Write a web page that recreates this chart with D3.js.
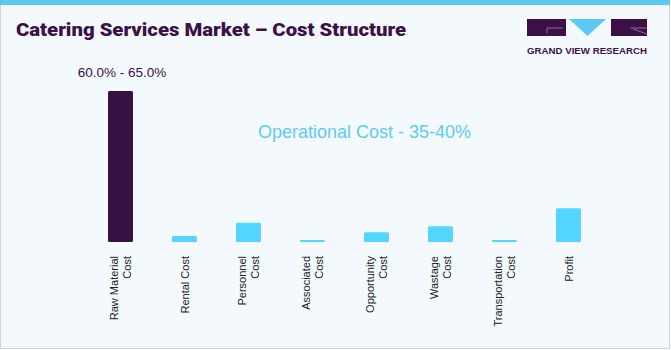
<!DOCTYPE html>
<html><head><meta charset="utf-8">
<script src="https://cdn.jsdelivr.net/npm/d3@7/dist/d3.min.js"></script>
<style>html,body{margin:0;padding:0;background:#fff;}svg{display:block;}</style>
</head><body>
<script>
const categories = ["Raw Material Cost","Rental Cost","Personnel Cost","Associated Cost","Opportunity Cost","Wastage Cost","Transportation Cost","Profit"];
const labelLines = [["Raw Material","Cost"],["Rental Cost"],["Personnel","Cost"],["Associated","Cost"],["Opportunity","Cost"],["Wastage","Cost"],["Transportation","Cost"],["Profit"]];
const values = [62.5, 2.5, 8, 0.8, 4, 6.5, 0.8, 14];
const highlight = [true,false,false,false,false,false,false,false];
const title = "Catering Services Market – Cost Structure";
const rawLabel = "60.0% - 65.0%";
const opLabel = "Operational Cost - 35-40%";

const W = 671, H = 350;
const svg = d3.select("body").append("svg").attr("width", W).attr("height", H);

svg.append("rect").attr("x",0.5).attr("y",0.5).attr("width",W-2).attr("height",H-2)
  .attr("fill","#f4f9fd").attr("stroke","#cfd3d6").attr("stroke-width",1);
svg.append("rect").attr("x",0).attr("y",0).attr("width",W-1).attr("height",5).attr("fill","#5cc9f2");

svg.append("text").attr("x",16).attr("y",36).text(title)
  .attr("font-family","Roboto, 'Liberation Sans', sans-serif").attr("font-weight",900)
  .attr("font-size",19).attr("fill","#3b1146")
  .attr("textLength",390).attr("lengthAdjust","spacingAndGlyphs");

// logo
const lg = svg.append("g");
lg.append("rect").attr("x",527).attr("y",19).attr("width",39).attr("height",17).attr("fill","#3b1146");
lg.append("path").attr("d","M569,19 L606,19 L587.5,36 Z").attr("fill","#5cc9f2");
lg.append("rect").attr("x",611).attr("y",19).attr("width",36).attr("height",17).attr("fill","#3b1146");
lg.append("path").attr("d","M547,33 V28 H563").attr("fill","none").attr("stroke","#9a8aa0").attr("stroke-width",0.8);
lg.append("path").attr("d","M630,28 H647 M633,29 L647,34").attr("fill","none").attr("stroke","#9a8aa0").attr("stroke-width",0.8);
lg.append("text").attr("x",587).attr("y",54).attr("text-anchor","middle").text("GRAND VIEW RESEARCH")
  .attr("font-family","'Liberation Sans', Arial, sans-serif").attr("font-weight",700).attr("font-size",9)
  .attr("fill","#3b1146").attr("textLength",120).attr("lengthAdjust","spacingAndGlyphs");

const x = d3.scaleBand().domain(categories).range([88.5, 600.5]).paddingInner(0.61).paddingOuter(0.305);
const y = d3.scaleLinear().domain([0, 62.5]).range([242, 91]);

svg.append("g").selectAll("rect").data(categories).join("rect")
  .attr("x", d => x(d)).attr("width", x.bandwidth())
  .attr("y", (d,i) => y(values[i])).attr("height", (d,i) => y(0) - y(values[i]))
  .attr("rx",1.5)
  .attr("fill", (d,i) => highlight[i] ? "#371046" : "#52d5fe");

// category labels
const lab = svg.append("g");
categories.forEach((c,i) => {
  const cx = x(c) + x.bandwidth()/2;
  const lines = labelLines[i];
  const n = lines.length;
  lines.forEach((ln,j) => {
    const off = (j - (n-1)/2) * 13;
    lab.append("text")
      .attr("transform", `translate(${cx + off + 4},256) rotate(-90)`)
      .attr("text-anchor","end")
      .attr("font-family","'Liberation Sans', Arial, sans-serif").attr("font-size",11)
      .attr("fill","#222").text(ln);
  });
});

svg.append("text").attr("x", x(categories[0]) + x.bandwidth()/2 + 1.5).attr("y",77)
  .attr("text-anchor","middle").attr("font-family","'Liberation Sans', Arial, sans-serif")
  .attr("font-size",13.5).attr("fill","#3b1146").text(rawLabel);

svg.append("text").attr("x",364.5).attr("y",138)
  .attr("text-anchor","middle").attr("font-family","'Liberation Sans', Arial, sans-serif")
  .attr("font-size",18).attr("fill","#5ccbf5").text(opLabel);
</script>
</body></html>
